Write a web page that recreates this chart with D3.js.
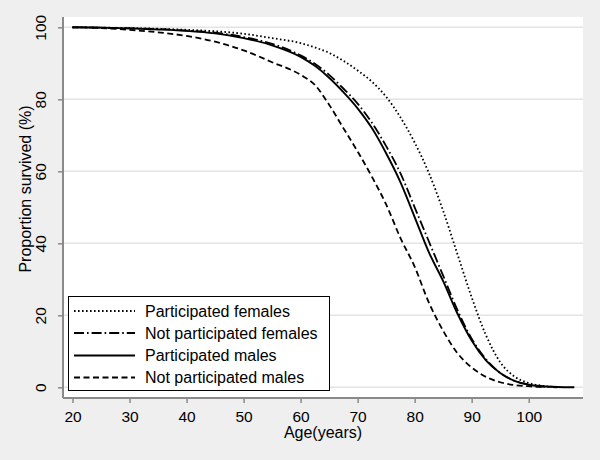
<!DOCTYPE html>
<html><head><meta charset="utf-8">
<script src="https://cdn.jsdelivr.net/npm/d3@7/dist/d3.min.js"></script>
<style>body{margin:0;background:#efefef;} svg{display:block;}</style>
</head><body>
<svg id="chart" width="600" height="460"></svg>
<script>
// ---- data ----
const ages = [20,25,30,35,40,45,50,55,60,62.5,65,67.5,70,72.5,75,77.5,80,82.5,85,87.5,90,92.5,95,97.5,100,102.5,105,108];
const participatedFemales    = [100,99.9,99.8,99.6,99.3,98.9,98.2,97,95.6,94.4,92.9,90.7,88,84.9,80.7,75,68,59.5,49,37,25,14.5,7,3,1.2,0.4,0,null];
const notParticipatedFemales = [100,99.9,99.7,99.5,99.1,98.5,97.3,95.4,92.2,89.9,86.8,83,78.8,73.5,67,59.5,50,40.5,31,21.5,13.5,7.8,4,1.8,0.8,0.2,0,null];
const participatedMales      = [100,99.9,99.7,99.4,99,98.3,97,95,91.8,89.3,86,82,77.5,72,65,57,47.3,37.5,29.5,20.5,13,7.5,4,1.8,0.7,0.3,0.1,0];
const notParticipatedMales   = [100,99.8,99.3,98.6,97.6,96,93.6,90.3,86.8,84,78.5,72,65.5,58.5,50.8,41.5,33.5,23.5,15.7,9.5,5.5,2.9,1.4,0.6,0.3,0,null,null];
const seriesNames = ["Participated females","Not participated females","Participated males","Not participated males"];
const xTicks = [20,30,40,50,60,70,80,90,100];
const yTicks = [0,20,40,60,80,100];

const seriesValues = [participatedFemales, notParticipatedFemales, participatedMales, notParticipatedMales];
const dashes = ["1.6,2.4", "10,3,1.6,3", null, "6,3.5"];

const font = "'Liberation Sans', Arial, sans-serif";
const svg = d3.select("#chart").style("font-family", font);

// backgrounds
svg.append("rect").attr("width",600).attr("height",460).attr("fill","#efefef");
const plotL = 63, plotR = 583, plotT = 17, plotB = 398;
svg.append("rect").attr("x",plotL).attr("y",plotT).attr("width",plotR-plotL).attr("height",plotB-plotT).attr("fill","#ffffff");

const x = d3.scaleLinear().domain([20,100]).range([72.5,528.7]);
const y = d3.scaleLinear().domain([0,100]).range([387.3,27.3]);

// gridlines
svg.append("g").selectAll("line").data(yTicks).join("line")
  .attr("x1",plotL).attr("x2",plotR)
  .attr("y1",d=>y(d)).attr("y2",d=>y(d))
  .attr("stroke","#e3e3e3").attr("stroke-width",1.5);

// axes
const axisColor = "#8a8a8a";
const yAxis = svg.append("g").attr("transform",`translate(${plotL},0)`)
  .call(d3.axisLeft(y).tickValues(yTicks).tickSize(5).tickFormat(d3.format("d")));
yAxis.select(".domain").attr("d",`M0,${plotT}V${plotB}`).attr("stroke",axisColor).attr("stroke-width",2);
yAxis.selectAll(".tick line").attr("stroke",axisColor).attr("stroke-width",1.5);
yAxis.selectAll(".tick text")
  .attr("transform","rotate(-90)")
  .attr("x",0).attr("y",-17).attr("dy",null)
  .attr("text-anchor","middle")
  .style("font-size","15.5px").style("font-family",font).attr("fill","#000");

const xAxis = svg.append("g").attr("transform",`translate(0,${plotB})`)
  .call(d3.axisBottom(x).tickValues(xTicks).tickSize(5).tickFormat(d3.format("d")));
xAxis.select(".domain").attr("d",`M${plotL},0H${plotR}`).attr("stroke",axisColor).attr("stroke-width",2);
xAxis.selectAll(".tick line").attr("stroke",axisColor).attr("stroke-width",1.5);
xAxis.selectAll(".tick text")
  .attr("y",24).attr("dy",null)
  .style("font-size","15.5px").style("font-family",font).attr("fill","#000");

// axis titles
svg.append("text").attr("x",323).attr("y",438).attr("text-anchor","middle")
  .style("font-size","16px").text("Age(years)");
svg.append("text").attr("transform","translate(31,189) rotate(-90)").attr("text-anchor","middle")
  .style("font-size","16px").text("Proportion survived (%)");

// curves
const line = d3.line()
  .defined(d => d[1] !== null)
  .x(d => x(d[0])).y(d => y(d[1]))
  .curve(d3.curveMonotoneX);
const drawOrder = [3,0,1,2];
drawOrder.forEach(i => {
  const pts = ages.map((a,j) => [a, seriesValues[i][j]]);
  svg.append("path").datum(pts).attr("d",line)
    .attr("fill","none").attr("stroke","#000")
    .attr("stroke-width", i===2 ? 1.9 : 1.8)
    .attr("stroke-dasharray", dashes[i]);
});

// legend
const lg = svg.append("g");
lg.append("rect").attr("x",68.5).attr("y",296.5).attr("width",261).attr("height",94)
  .attr("fill","#fff").attr("stroke","#000").attr("stroke-width",1);
const rowY = [311, 333, 355.5, 377.5];
seriesNames.forEach((name,i) => {
  lg.append("line").attr("x1",74).attr("x2",135).attr("y1",rowY[i]).attr("y2",rowY[i])
    .attr("stroke","#000").attr("stroke-width",1.8).attr("stroke-dasharray",dashes[i]);
  lg.append("text").attr("x",145).attr("y",rowY[i]+5.5).style("font-size","16px").text(name);
});
</script>
</body></html>
